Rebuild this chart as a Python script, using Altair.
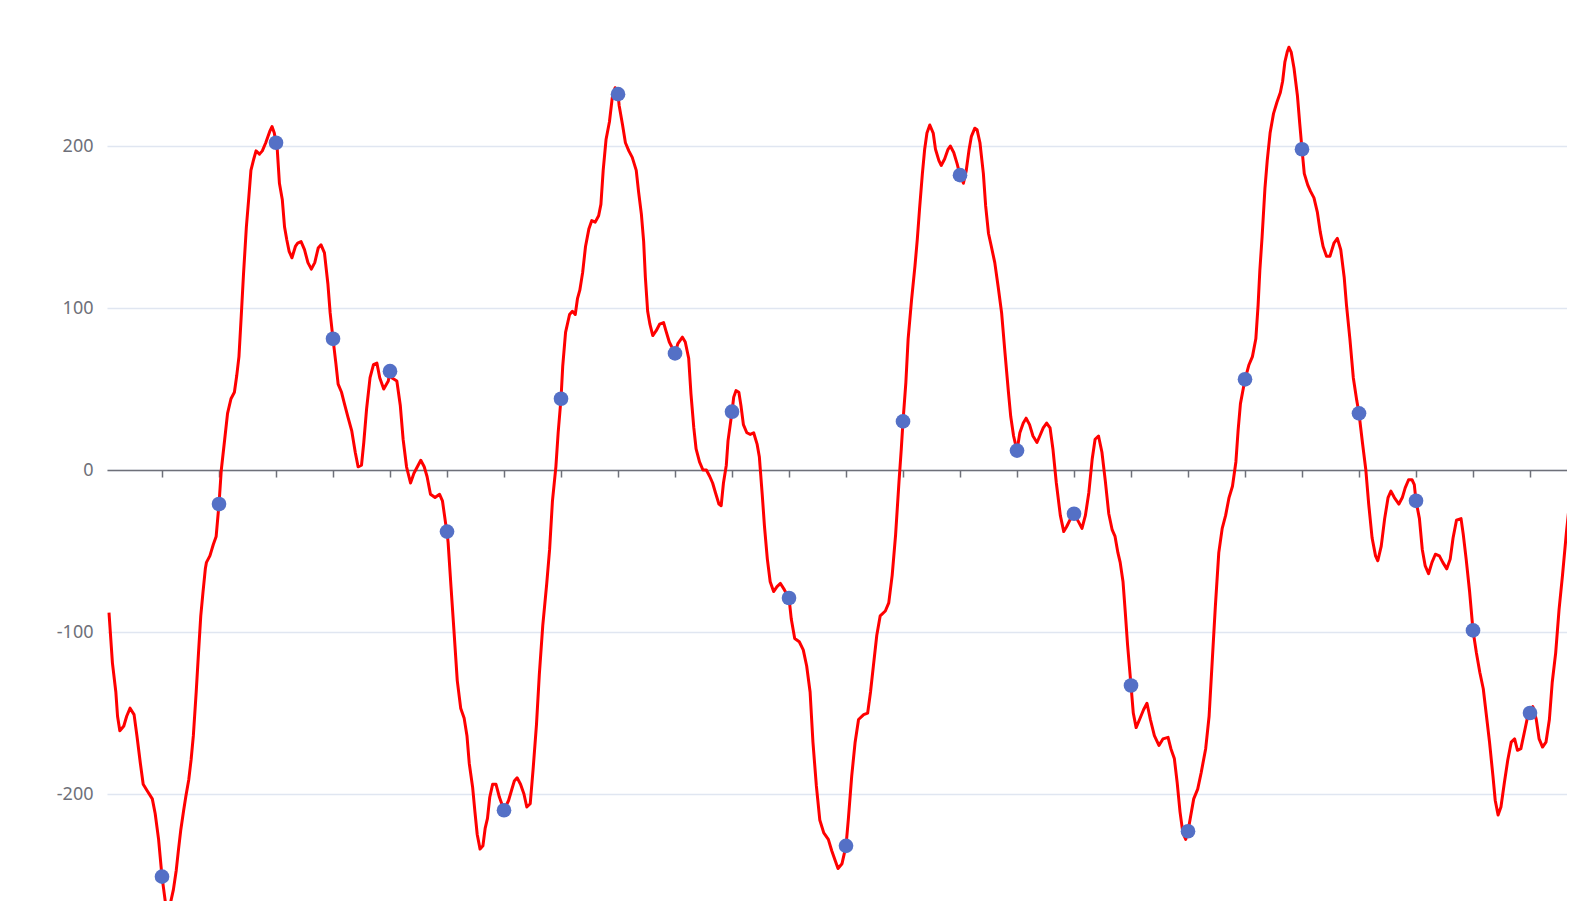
import altair as alt
import pandas as pd

# ---- data ----
line_t = [
    -0.93, -0.87, -0.81, -0.78, -0.74, -0.67, -0.62, -0.56, -0.49, -0.44,
    -0.38, -0.33, -0.26, -0.17, -0.12, -0.06, 0.00, 0.06, 0.10, 0.15,
    0.20, 0.25, 0.29, 0.33, 0.38, 0.42, 0.47, 0.51, 0.55, 0.60,
    0.64, 0.68, 0.72, 0.76, 0.78, 0.84, 0.90, 0.95, 1.00, 1.04,
    1.10, 1.15, 1.21, 1.27, 1.31, 1.35, 1.39, 1.43, 1.48, 1.52,
    1.56, 1.61, 1.65, 1.71, 1.76, 1.82, 1.89, 1.93, 1.97, 2.00,
    2.02, 2.06, 2.11, 2.15, 2.19, 2.23, 2.28, 2.34, 2.38, 2.44,
    2.50, 2.56, 2.62, 2.68, 2.74, 2.79, 2.85, 2.91, 2.95, 3.00,
    3.05, 3.09, 3.15, 3.20, 3.26, 3.33, 3.39, 3.44, 3.50, 3.54,
    3.59, 3.65, 3.71, 3.77, 3.82, 3.89, 3.97, 4.00, 4.03, 4.12,
    4.18, 4.23, 4.29, 4.36, 4.42, 4.48, 4.54, 4.60, 4.65, 4.71,
    4.79, 4.87, 4.92, 4.98, 5.00, 5.02, 5.07, 5.12, 5.18, 5.24,
    5.30, 5.35, 5.39, 5.45, 5.49, 5.53, 5.58, 5.63, 5.67, 5.71,
    5.75, 5.80, 5.86, 5.92, 6.00, 6.08, 6.13, 6.18, 6.23, 6.29,
    6.35, 6.40, 6.46, 6.51, 6.57, 6.62, 6.68, 6.75, 6.80, 6.85,
    6.91, 6.95, 7.00, 7.03, 7.08, 7.15, 7.20, 7.25, 7.29, 7.33,
    7.38, 7.43, 7.49, 7.54, 7.60, 7.66, 7.70, 7.74, 7.79, 7.85,
    7.90, 7.95, 8.00, 8.02, 8.08, 8.13, 8.19, 8.25, 8.32, 8.36,
    8.41, 8.45, 8.48, 8.52, 8.56, 8.61, 8.67, 8.73, 8.80, 8.84,
    8.90, 9.00, 9.05, 9.13, 9.18, 9.24, 9.28, 9.33, 9.37, 9.43,
    9.49, 9.55, 9.61, 9.66, 9.71, 9.77, 9.81, 9.85, 9.90, 9.93,
    10.00, 10.03, 10.07, 10.12, 10.16, 10.20, 10.26, 10.32, 10.38, 10.44,
    10.48, 10.53, 10.57, 10.62, 10.67, 10.73, 10.79, 10.85, 10.92, 11.00,
    11.04, 11.10, 11.18, 11.25, 11.31, 11.37, 11.42, 11.48, 11.54, 11.61,
    11.69, 11.75, 11.81, 11.86, 11.93, 12.00, 12.04, 12.10, 12.16, 12.22,
    12.31, 12.38, 12.43, 12.48, 12.54, 12.60, 12.69, 12.75, 12.81, 12.87,
    12.93, 12.97, 13.00, 13.05, 13.09, 13.15, 13.21, 13.25, 13.29, 13.34,
    13.38, 13.42, 13.47, 13.53, 13.57, 13.63, 13.67, 13.73, 13.79, 13.83,
    13.89, 13.95, 14.00, 14.06, 14.11, 14.16, 14.20, 14.26, 14.30, 14.35,
    14.41, 14.45, 14.50, 14.55, 14.61, 14.67, 14.73, 14.79, 14.85, 14.89,
    14.94, 15.00, 15.05, 15.11, 15.16, 15.22, 15.28, 15.35, 15.40, 15.46,
    15.52, 15.58, 15.63, 15.69, 15.76, 15.82, 15.87, 15.94, 16.00, 16.08,
    16.14, 16.20, 16.26, 16.32, 16.37, 16.43, 16.49, 16.55, 16.61, 16.67,
    16.72, 16.77, 16.81, 16.86, 16.90, 16.94, 17.00, 17.04, 17.09, 17.15,
    17.22, 17.28, 17.34, 17.41, 17.49, 17.56, 17.65, 17.70, 17.76, 17.81,
    17.86, 17.91, 17.96, 18.00, 18.04, 18.10, 18.17, 18.23, 18.31, 18.37,
    18.42, 18.48, 18.54, 18.60, 18.66, 18.72, 18.78, 18.84, 18.88, 18.92,
    19.00, 19.07, 19.13, 19.19, 19.23, 19.26, 19.30, 19.35, 19.39, 19.44,
    19.50, 19.56, 19.62, 19.66, 19.70, 19.74, 19.77, 19.81, 19.86, 19.92,
    19.96, 20.00, 20.04, 20.10, 20.15, 20.21, 20.27, 20.32, 20.37, 20.43,
    20.49, 20.56, 20.62, 20.68, 20.74, 20.78, 20.84, 20.90, 20.96, 21.00,
    21.06, 21.12, 21.17, 21.23, 21.29, 21.33, 21.39, 21.45, 21.51, 21.56,
    21.62, 21.70, 21.76, 21.81, 21.87, 21.93, 21.97, 22.00, 22.06, 22.11,
    22.16, 22.22, 22.28, 22.34, 22.41, 22.47, 22.54, 22.60, 22.65, 22.71,
    22.79, 22.83, 22.88, 22.94, 23.00, 23.06, 23.12, 23.18, 23.23, 23.29,
    23.35, 23.39, 23.44, 23.49, 23.55, 23.61, 23.67, 23.73, 23.78, 23.84,
    23.90, 23.96, 24.00, 24.05, 24.11, 24.16, 24.22, 24.28, 24.34, 24.39,
    24.45, 24.51, 24.57, 24.64, 24.70, 24.75, 24.80,
]
line_v = [
    -88, -119, -137, -152, -161, -158, -152, -147, -151, -164,
    -181, -194, -198, -203, -212, -228, -251, -267, -270, -267,
    -259, -247, -234, -222, -210, -201, -191, -179, -164, -137,
    -113, -90, -75, -61, -57, -53, -46, -41, -21, 0,
    19, 35, 44, 48, 58, 70, 95, 121, 150, 167,
    185, 192, 197, 195, 197, 202, 209, 212, 208, 202,
    199, 177, 167, 150, 142, 135, 131, 138, 140, 141,
    136, 128, 124, 128, 137, 139, 134, 115, 97, 81,
    66, 53, 48, 41, 33, 24, 11, 2, 3, 17,
    38, 57, 65, 66, 57, 50, 55, 61, 57, 55,
    40, 19, 2, -8, -2, 2, 6, 2, -4, -15,
    -17, -15, -19, -34, -38, -45, -72, -98, -130, -147,
    -153, -164, -181, -196, -211, -225, -234, -232, -221, -215,
    -202, -194, -194, -202, -210, -204, -198, -192, -190, -194,
    -200, -208, -206, -185, -157, -126, -96, -70, -49, -19,
    2, 23, 44, 64, 85, 96, 98, 96, 106, 111,
    122, 138, 149, 154, 153, 157, 164, 185, 204, 215,
    230, 236, 232, 225, 213, 202, 197, 193, 185, 172,
    158, 141, 119, 98, 90, 83, 86, 90, 91, 86,
    79, 72, 78, 82, 79, 69, 47, 26, 13, 5,
    0, 0, -4, -8, -14, -21, -22, -8, 3, 18,
    36, 45, 49, 48, 39, 28, 23, 22, 23, 16,
    8, -15, -35, -55, -69, -75, -72, -70, -74, -79,
    -92, -104, -106, -111, -121, -137, -168, -195, -216, -224,
    -228, -235, -241, -246, -243, -232, -216, -189, -168, -154,
    -151, -150, -137, -121, -102, -90, -87, -82, -65, -40,
    -7, 13, 30, 54, 81, 105, 126, 142, 161, 183,
    198, 208, 213, 208, 198, 191, 188, 192, 198, 200,
    196, 189, 182, 177, 185, 198, 206, 211, 210, 202,
    183, 163, 146, 138, 128, 113, 97, 72, 48, 33,
    21, 12, 23, 29, 32, 28, 21, 17, 21, 26,
    29, 26, 13, -8, -28, -38, -35, -30, -27, -32,
    -36, -28, -14, 7, 19, 21, 11, -7, -27, -37,
    -41, -51, -57, -69, -88, -108, -133, -150, -159, -154,
    -148, -144, -154, -164, -170, -166, -165, -172, -178, -193,
    -211, -224, -228, -223, -215, -203, -197, -187, -172, -152,
    -121, -84, -51, -36, -28, -17, -10, 5, 25, 41,
    56, 65, 70, 81, 102, 123, 144, 174, 191, 208,
    220, 227, 233, 240, 252, 258, 261, 258, 248, 231,
    214, 198, 183, 176, 172, 168, 159, 147, 138, 132,
    132, 140, 143, 136, 119, 102, 81, 57, 43, 35,
    17, 0, -21, -42, -53, -56, -47, -30, -17, -13,
    -17, -21, -17, -11, -6, -6, -9, -19, -30, -49,
    -59, -64, -57, -52, -53, -57, -61, -55, -42, -31,
    -30, -40, -55, -75, -99, -113, -125, -135, -150, -168,
    -189, -204, -213, -208, -193, -179, -168, -166, -173, -172,
    -162, -152, -150, -146, -154, -166, -171, -168, -154, -131,
    -113, -86, -65, -38, -18, -1, 49,
]

point_t = list(range(25))
point_v = [
    -251, -21, 202, 81, 61, -38, -210, 44, 232, 72,
    36, -79, -232, 30, 182, 12, -27, -133, -223, 56,
    198, 35, -19, -99, -150,
]

y_ticks = [-200, -100, 0, 100, 200]

line_df = pd.DataFrame({"t": line_t, "v": line_v})
pt_df = pd.DataFrame({"t": point_t, "v": point_v})

W = 1460
H = 893
X_DOM = [-0.965, -0.965 + W / 57.0]
Y_DOM = [285.2 - H / 1.62, 285.2]
zero_off = -(0 - Y_DOM[0]) / (Y_DOM[1] - Y_DOM[0]) * H

xs = alt.Scale(domain=X_DOM, nice=False, zero=False)
ys = alt.Scale(domain=Y_DOM, nice=False, zero=False)

x_axis = alt.Axis(
    values=point_t, labels=False, grid=False, title=None,
    domainColor="#6E7079", domainWidth=1.5,
    tickColor="#6E7079", tickWidth=1.5, tickSize=7,
    offset=zero_off,
)
y_axis = alt.Axis(
    values=y_ticks, title=None, domain=False, ticks=False,
    grid=True, gridColor="#E0E6F1", gridWidth=1.5,
    labelColor="#6E7079", labelFontSize=18, labelFont="Noto Sans",
    labelPadding=14, labelExpr="'' + datum.value",
)

line = alt.Chart(line_df).mark_line(
    color="#ff0000", strokeWidth=3, clip=True, strokeJoin="round"
).encode(
    x=alt.X("t:Q", scale=xs, axis=x_axis),
    y=alt.Y("v:Q", scale=ys, axis=y_axis),
)

pts = alt.Chart(pt_df).mark_circle(
    color="#5470c6", size=215, opacity=1, clip=True
).encode(
    x=alt.X("t:Q", scale=xs),
    y=alt.Y("v:Q", scale=ys),
)

chart = alt.layer(line, pts).properties(
    width=W, height=H,
    autosize=alt.AutoSizeParams(type="none"),
    padding={"left": 99, "top": 0, "right": 0, "bottom": 0},
).configure_view(stroke=None)

chart.save("out.html", embed_options={"renderer": "svg", "actions": False})
